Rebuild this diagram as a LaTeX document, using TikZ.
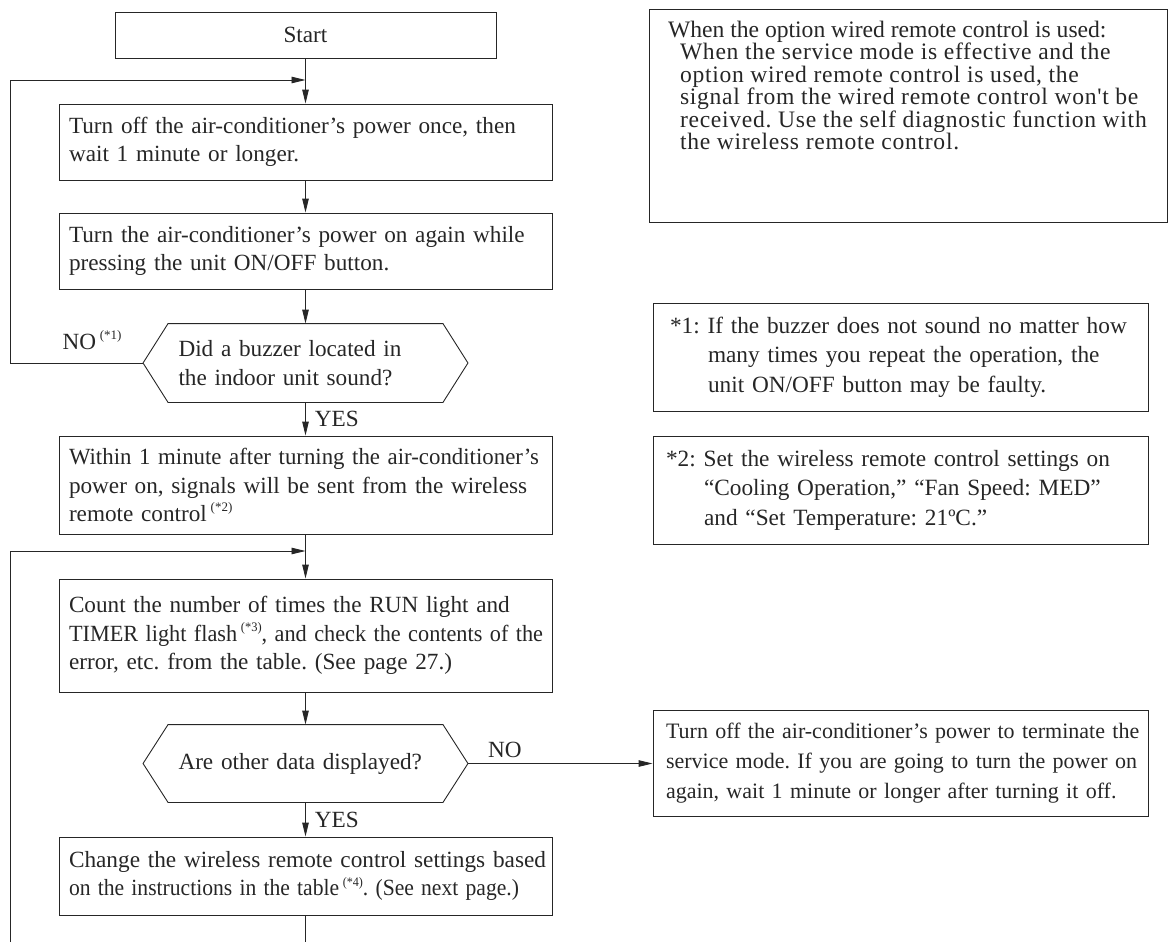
\documentclass[tikz,border=0pt]{standalone}
\usepackage{graphicx}
\usepackage{fontspec}
\setmainfont{Liberation Serif}
\newfontfamily\spacedfont[LetterSpace=3,Ligatures=TeXOff]{Liberation Serif}
\usepackage{tikz}
\usetikzlibrary{arrows.meta}
\usetikzlibrary{calc}
\frenchspacing
\newcommand{\fnref}[1]{\,\raisebox{0.42em}{\fontsize{13}{13}\selectfont(*#1)}}
\newcommand{\fitto}[2]{\resizebox{#1}{\height}{#2}}% ligne trop longue
\tikzset{
  fc_box/.style = {rectangle, draw, align=left, inner xsep=10pt, inner ysep=0pt,
    text width=473pt, font=\fontsize{23.2}{28.5}\selectfont},% boite du flux
  fc_hex/.style = {rectangle, align=left, inner xsep=10pt, inner ysep=0pt,
    text width=254pt, minimum width=274pt, minimum height=78pt,
    font=\fontsize{23.2}{29}\selectfont},% test, contour trace a part
  fc_note/.style = {rectangle, draw, align=left, inner ysep=0pt,
    minimum width=495pt, font=\fontsize{23.3}{29.5}\selectfont},% note a droite
  fc_lbl/.style = {inner sep=0pt, font=\fontsize{23.2}{24}\selectfont}% YES, NO
}

\begin{document}
\begin{tikzpicture}[x=1pt,y=-1pt,->,>={Triangle[length=14pt,width=6.5pt]},
  line width=0.9pt,color=black!85]
\useasboundingbox (0,0) rectangle (1169,942);

% colonne principale
\node [fc_box, text width=361pt, align=center, minimum height=46pt] (start) at (305.5,35) {Start};
\node [fc_box, minimum height=76pt] (b1) at (305.5,142)
  {Turn off the air-conditioner’s power once, then\\wait 1 minute or longer.};
\node [fc_box, minimum height=76pt] (b2) at (305.5,251)
  {Turn the air-conditioner’s power on again while\\pressing the unit ON/OFF button.};
\node [fc_hex] (q1) at (305.5,363) {Did a buzzer located in\\the indoor unit sound?};
\node [fc_box, minimum height=98pt] (b3) at (305.5,485)
  {\fitto{470pt}{Within 1 minute after turning the air-conditioner’s}\\\mbox{power on, signals will be sent from the wireless}\\remote control\fnref{2}};
\node [fc_box, minimum height=113pt] (b4) at (305.5,635.5)
  {Count the number of times the RUN light and\\\fitto{474pt}{TIMER light flash\fnref{3}, and check the contents of the}\\error, etc. from the table. (See page 27.)};
\node [fc_hex, minimum height=77pt] (q2) at (305.5,763.5) {Are other data displayed?};
\node [fc_box, minimum height=78pt] (b5) at (305.5,876)
  {\fitto{477pt}{Change the wireless remote control settings based}\\\fitto{450pt}{on the instructions in the table\fnref{4}. (See next page.)}};

% notes
\node [fc_note, minimum width=518pt, minimum height=213pt] (n0) at (908,115.5) {};
\node [fc_lbl, align=left, anchor=north west, font=\fontsize{23.6}{22.5}\selectfont] (n0t)
  at ([xshift=19pt,yshift=-12pt]n0.north west)
  {When the option wired remote control is used:\\
   \hspace*{12pt}{\spacedfont When the service mode is effective and the}\\
   \hspace*{12pt}{\spacedfont option wired remote control is used, the}\\
   \hspace*{12pt}{\spacedfont signal from the wired remote control won't be}\\
   \hspace*{12pt}{\spacedfont received. Use the self diagnostic function with}\\
   \hspace*{12pt}{\spacedfont the wireless remote control.}};
\node [fc_note, inner xsep=17pt, text width=461pt, minimum height=108pt] (n1) at (900.5,357)
  {\mbox{*1: If the buzzer does not sound no matter how}\\\hspace*{38pt}many times you repeat the operation, the\\\hspace*{38pt}unit ON/OFF button may be faulty.};
\node [fc_note, inner xsep=13pt, text width=469pt, minimum height=108pt] (n2) at (900.5,490)
  {\mbox{*2: Set the wireless remote control settings on}\\\hspace*{38pt}“Cooling Operation,” “Fan Speed: MED”\\\hspace*{38pt}and “Set Temperature: 21ºC.”};
\node [fc_note, inner xsep=13pt, text width=469pt, minimum height=106pt,
  font=\fontsize{22}{30}\selectfont] (fin) at (900.5,763.5)
  {\mbox{Turn off the air-conditioner’s power to terminate the}\\\mbox{service mode. If you are going to turn the power on}\\\mbox{again, wait 1 minute or longer after turning it off.}};

% contours des tests
\coordinate (q1w) at ([xshift=-25pt]q1.west);
\coordinate (q1e) at ([xshift=25pt]q1.east);
\coordinate (q2w) at ([xshift=-25pt]q2.west);
\coordinate (q2e) at ([xshift=25pt]q2.east);
\draw[-] (q1.north west) -- (q1.north east) -- (q1e) -- (q1.south east) -- (q1.south west) -- (q1w) -- cycle;
\draw[-] (q2.north west) -- (q2.north east) -- (q2e) -- (q2.south east) -- (q2.south west) -- (q2w) -- cycle;

% retours
\coordinate (j1) at (305.5,80);
\coordinate (j2) at (305.5,551);
\coordinate (c1) at (10,80);
\coordinate (c2) at (10,551);
\coordinate (c3) at (10,942);
\coordinate (e5) at (305.5,942);

\draw (start.south) -- (b1.north);
\draw (b1.south) -- (b2.north);
\draw (b2.south) -- (q1.north);
\draw (q1.south) -- (b3.north) node [fc_lbl, midway, anchor=west, xshift=9pt] {YES};
\draw (b3.south) -- (b4.north);
\draw (b4.south) -- (q2.north);
\draw (q2.south) -- (b5.north) node [fc_lbl, midway, anchor=west, xshift=9pt] {YES};
\draw[-] (b5.south) -- (e5);
\draw (q1w) -| (c1) -- (j1);
\draw (c3) -- (c2) -- (j2);
\draw (q2e) -- (fin.west) node [fc_lbl, pos=0.2, anchor=south, yshift=5pt] {NO};
\node [fc_lbl, anchor=base west] at ([xshift=-81pt,yshift=14pt]q1w) {NO\fnref{1}};
%\node at (q1) [xshift=2cm] {};
\end{tikzpicture}
\end{document}
